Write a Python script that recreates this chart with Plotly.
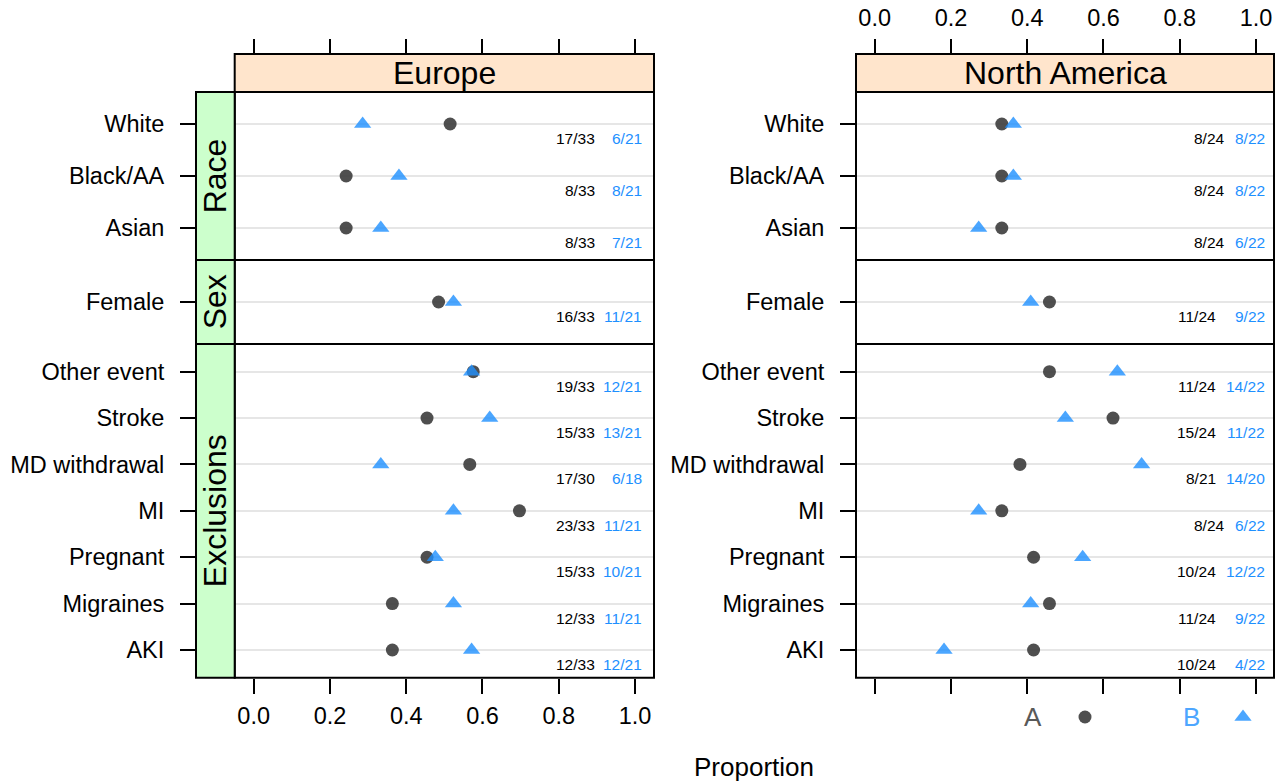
import plotly.graph_objects as go

# ---------------- data ----------------
regions = ["Europe", "North America"]
groups = ["Race", "Sex", "Exclusions"]
race_cats = ["White", "Black/AA", "Asian"]
sex_cats = ["Female"]
excl_cats = ["Other event", "Stroke", "MD withdrawal", "MI", "Pregnant", "Migraines", "AKI"]
all_cats = race_cats + sex_cats + excl_cats

eu_a_num = [17, 8, 8, 16, 19, 15, 17, 23, 15, 12, 12]
eu_a_den = [33, 33, 33, 33, 33, 33, 30, 33, 33, 33, 33]
eu_b_num = [6, 8, 7, 11, 12, 13, 6, 11, 10, 11, 12]
eu_b_den = [21, 21, 21, 21, 21, 21, 18, 21, 21, 21, 21]
na_a_num = [8, 8, 8, 11, 11, 15, 8, 8, 10, 11, 10]
na_a_den = [24, 24, 24, 24, 24, 24, 21, 24, 24, 24, 24]
na_b_num = [8, 8, 6, 9, 14, 11, 14, 6, 12, 9, 4]
na_b_den = [22, 22, 22, 22, 22, 22, 20, 22, 22, 22, 22]

key_labels = ["A", "B"]
x_ticks = [0, 0.2, 0.4, 0.6, 0.8, 1.0]
x_ticktext = ["0.0", "0.2", "0.4", "0.6", "0.8", "1.0"]

# ---------------- layout helpers ----------------
W, H = 1284, 782
L, R, T, B = 196, 10, 54, 10
PW, PH = W - L - R, H - T - B


def px(x):
    return (x - L) / PW


def py(y):
    return (H - B - y) / PH


FONT = "Liberation Sans, Arial, Helvetica, sans-serif"
TICK_SIZE = 23.5
STRIP_SIZE = 32
COUNT_SIZE = 15.5
COL_A = "rgba(64,64,64,0.92)"
COL_B = "rgba(30,144,255,0.8)"
TXT_B = "#1E90FF"

panel_x = [(234.7, 654.0), (856.0, 1274.0)]
axis_x = [(196.0, 654.0), (856.0, 1274.0)]
zero_px = [253.7, 874.7]
unit_px = 381.3
band_y = [(92.0, 260.0), (260.0, 344.0), (344.0, 677.7)]
axis_band_y = [(54.0, 260.0), (260.0, 344.0), (344.0, 677.7)]
group_cats = [race_cats, sex_cats, excl_cats]
y_ranges = [[-0.615, 2 + 70 / 52], [-0.5, 0.5], [-0.597, 6.597]]
# right edge of the count labels: (short pair, long pair)
frac_a_right = [(596.7, 596.7), (1226.7, 1217.7)]
frac_b_right = [644.3, 1266.7]

data = [
    (eu_a_num, eu_a_den, eu_b_num, eu_b_den),
    (na_a_num, na_a_den, na_b_num, na_b_den),
]

fig = go.Figure()
layout = {}
annotations = []
shapes = []


def aname(k, ax):
    return ax if k == 1 else f"{ax}{k}"


for g, cats in enumerate(group_cats):
    offset = sum(len(c) for c in group_cats[:g])
    for c in range(2):
        k = g * 2 + c + 1
        xa, ya = aname(k, "x"), aname(k, "y")
        an, ad, bn, bd = data[c]
        idx = list(range(offset, offset + len(cats)))
        pa = [an[i] / ad[i] for i in idx]
        pb = [bn[i] / bd[i] for i in idx]
        ycat = [all_cats[i] for i in idx]
        fig.add_trace(go.Scatter(
            x=pa, y=ycat, xaxis=xa, yaxis=ya, mode="markers", showlegend=False,
            marker=dict(symbol="circle", size=13, color=COL_A, line=dict(width=0)),
            hoverinfo="x+y"))
        fig.add_trace(go.Scatter(
            x=pb, y=ycat, xaxis=xa, yaxis=ya, mode="markers", showlegend=False,
            marker=dict(symbol="triangle-up", size=15, color=COL_B, line=dict(width=0)),
            hoverinfo="x+y"))

        x0p, x1p = axis_x[c]
        lo = (x0p - zero_px[c]) / unit_px
        hi = (x1p - zero_px[c]) / unit_px
        xdict = dict(domain=[px(x0p), px(x1p)], range=[lo, hi], anchor=ya,
                     showgrid=False, zeroline=False, showline=False,
                     tickvals=x_ticks, ticktext=x_ticktext,
                     tickfont=dict(family=FONT, size=TICK_SIZE, color="black"))
        if g == 0:
            xdict.update(side="top", ticks="outside", ticklen=14, tickwidth=2,
                         tickcolor="black", showticklabels=(c == 1),
                         ticklabelstandoff=4)
        elif g == 2:
            xdict.update(side="bottom", ticks="outside", ticklen=15, tickwidth=2,
                         tickcolor="black", showticklabels=(c == 0),
                         ticklabelstandoff=2)
        else:
            xdict.update(ticks="", showticklabels=False)
        layout[aname(k, "xaxis")] = xdict

        y0p, y1p = axis_band_y[g]
        layout[aname(k, "yaxis")] = dict(
            domain=[py(y1p), py(y0p)], range=y_ranges[g], anchor=xa,
            type="category", categoryorder="array", categoryarray=cats[::-1],
            showgrid=True, gridcolor="#E6E6E6", gridwidth=2, zeroline=False,
            showline=False, ticks="outside", ticklen=15, tickwidth=2,
            tickcolor="black", ticklabelstandoff=11,
            tickfont=dict(family=FONT, size=TICK_SIZE, color="black"))

        # count labels
        for i in idx:
            a_txt = f"{an[i]}/{ad[i]}"
            b_txt = f"{bn[i]}/{bd[i]}"
            short = len(a_txt) <= 4 and len(b_txt) <= 4
            a_right = frac_a_right[c][0] if short else frac_a_right[c][1]
            annotations.append(dict(
                xref="paper", yref=ya, x=px(a_right), y=all_cats[i],
                xanchor="right", yanchor="middle", yshift=-14.5, showarrow=False,
                text=a_txt, font=dict(family=FONT, size=COUNT_SIZE, color="black")))
            annotations.append(dict(
                xref="paper", yref=ya, x=px(frac_b_right[c]), y=all_cats[i],
                xanchor="right", yanchor="middle", yshift=-14.5, showarrow=False,
                text=b_txt, font=dict(family=FONT, size=COUNT_SIZE, color=TXT_B)))

        # panel border
        shapes.append(dict(type="rect", xref="paper", yref="paper",
                           x0=px(panel_x[c][0]), x1=px(panel_x[c][1]),
                           y0=py(band_y[g][1]), y1=py(band_y[g][0]),
                           line=dict(color="black", width=2), layer="above"))

# left strips (Europe only)
for g, name in enumerate(groups):
    shapes.append(dict(type="rect", xref="paper", yref="paper",
                       x0=px(196), x1=px(234.7), y0=py(band_y[g][1]), y1=py(band_y[g][0]),
                       fillcolor="#CCFFCC", line=dict(color="black", width=2), layer="above"))
    annotations.append(dict(xref="paper", yref="paper", x=px(215.3),
                            y=py((band_y[g][0] + band_y[g][1]) / 2), text=name,
                            textangle=-90, showarrow=False, xanchor="center", yanchor="middle",
                            font=dict(family=FONT, size=STRIP_SIZE, color="black")))

# top strips
for c, name in enumerate(regions):
    shapes.append(dict(type="rect", xref="paper", yref="paper",
                       x0=px(panel_x[c][0]), x1=px(panel_x[c][1]), y0=py(92), y1=py(54),
                       fillcolor="#FFE5CC", line=dict(color="black", width=2), layer="above"))
    annotations.append(dict(xref="paper", yref="paper",
                            x=px((panel_x[c][0] + panel_x[c][1]) / 2), y=py(73), text=name,
                            showarrow=False, xanchor="center", yanchor="middle",
                            font=dict(family=FONT, size=STRIP_SIZE, color="black")))

# x-axis title
annotations.append(dict(xref="paper", yref="paper", x=px(754), y=py(767), text="Proportion",
                        showarrow=False, xanchor="center", yanchor="middle",
                        font=dict(family=FONT, size=26, color="black")))

# key
key_y0, key_y1 = 705.0, 729.0
kx0, kx1 = 1000.0, 1274.0
k_a, k_b = 1085.0, 1243.0
kscale = k_b - k_a
layout["xaxis7"] = dict(domain=[px(kx0), px(kx1)], anchor="y7", visible=False,
                        type="category", categoryorder="array", categoryarray=key_labels,
                        range=[-(k_a - kx0) / kscale, 1 + (kx1 - k_b) / kscale])
layout["yaxis7"] = dict(domain=[py(key_y1), py(key_y0)], anchor="x7", visible=False,
                        range=[-1, 1])
fig.add_trace(go.Scatter(x=[key_labels[0]], y=[0], xaxis="x7", yaxis="y7", mode="markers",
                         showlegend=False, hoverinfo="skip",
                         marker=dict(symbol="circle", size=13, color=COL_A)))
fig.add_trace(go.Scatter(x=[key_labels[1]], y=[0], xaxis="x7", yaxis="y7", mode="markers",
                         showlegend=False, hoverinfo="skip",
                         marker=dict(symbol="triangle-up", size=15, color=COL_B)))
annotations.append(dict(xref="x7", yref="y7", x=key_labels[0], y=0, xshift=-52,
                        text=key_labels[0], showarrow=False,
                        font=dict(family=FONT, size=26, color="#595959")))
annotations.append(dict(xref="x7", yref="y7", x=key_labels[1], y=0, xshift=-52,
                        text=key_labels[1], showarrow=False,
                        font=dict(family=FONT, size=26, color="#4DA6FF")))

fig.update_layout(
    width=W, height=H, margin=dict(l=L, r=R, t=T, b=B, autoexpand=False),
    paper_bgcolor="white", plot_bgcolor="white",
    annotations=annotations, shapes=shapes, showlegend=False,
    font=dict(family=FONT), **layout)

fig.write_html("out.html", config={"displayModeBar": False},
               post_script="document.body.style.margin='0';document.body.style.overflow='hidden';")
